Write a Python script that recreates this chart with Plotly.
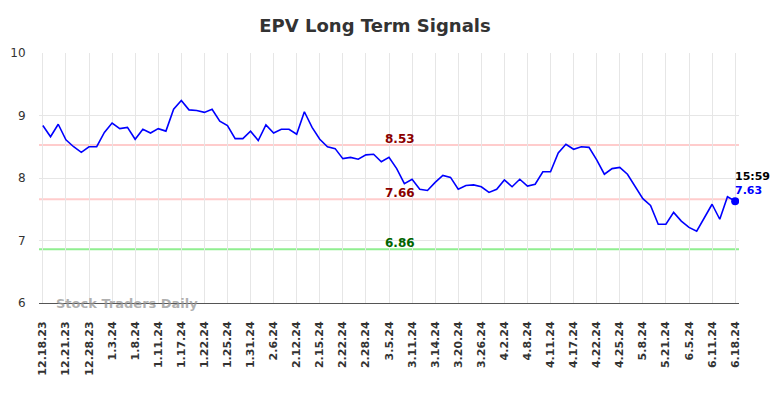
import plotly.graph_objects as go

dates = [
    "12.18.23", "12.19.23", "12.20.23", "12.21.23", "12.22.23", "12.26.23", "12.28.23", "12.29.23", "1.2.24",
    "1.3.24", "1.4.24", "1.5.24", "1.8.24", "1.9.24", "1.10.24", "1.11.24", "1.12.24", "1.16.24",
    "1.17.24", "1.18.24", "1.19.24", "1.22.24", "1.23.24", "1.24.24", "1.25.24", "1.26.24", "1.29.24",
    "1.31.24", "2.1.24", "2.2.24", "2.6.24", "2.7.24", "2.8.24", "2.12.24", "2.13.24", "2.14.24",
    "2.15.24", "2.16.24", "2.20.24", "2.22.24", "2.23.24", "2.26.24", "2.28.24", "2.29.24", "3.1.24",
    "3.5.24", "3.6.24", "3.7.24", "3.11.24", "3.12.24", "3.13.24", "3.14.24", "3.15.24", "3.18.24",
    "3.20.24", "3.21.24", "3.22.24", "3.26.24", "3.27.24", "3.28.24", "4.2.24", "4.3.24", "4.4.24",
    "4.8.24", "4.9.24", "4.10.24", "4.11.24", "4.12.24", "4.15.24", "4.17.24", "4.18.24", "4.19.24",
    "4.22.24", "4.23.24", "4.24.24", "4.25.24", "4.26.24", "5.1.24", "5.8.24", "5.9.24", "5.14.24",
    "5.21.24", "5.22.24", "5.29.24", "6.5.24", "6.6.24", "6.7.24", "6.11.24", "6.12.24", "6.14.24",
    "6.18.24",
]

prices = [
    8.84, 8.66, 8.86, 8.61, 8.50, 8.41, 8.50, 8.50, 8.73, 8.88,
    8.79, 8.81, 8.62, 8.78, 8.72, 8.79, 8.75, 9.10, 9.24, 9.09,
    9.08, 9.05, 9.10, 8.91, 8.84, 8.63, 8.63, 8.75, 8.60, 8.85,
    8.72, 8.78, 8.78, 8.70, 9.06, 8.81, 8.62, 8.50, 8.47, 8.31,
    8.33, 8.30, 8.37, 8.38, 8.26, 8.33, 8.15, 7.91, 7.98, 7.82,
    7.80, 7.93, 8.04, 8.01, 7.82, 7.88, 7.89, 7.86, 7.77, 7.82,
    7.97, 7.86, 7.98, 7.87, 7.90, 8.10, 8.10, 8.40, 8.54, 8.46,
    8.50, 8.49, 8.29, 8.06, 8.15, 8.17, 8.06, 7.86, 7.67, 7.56,
    7.26, 7.26, 7.45, 7.31, 7.21, 7.15, 7.36, 7.58, 7.34, 7.70,
    7.63,
]

tick_labels = [
    "12.18.23", "12.21.23", "12.28.23", "1.3.24", "1.8.24", "1.11.24", "1.17.24", "1.22.24",
    "1.25.24", "1.31.24", "2.6.24", "2.12.24", "2.15.24", "2.22.24", "2.28.24", "3.5.24",
    "3.11.24", "3.14.24", "3.20.24", "3.26.24", "4.2.24", "4.8.24", "4.11.24", "4.17.24",
    "4.22.24", "4.25.24", "5.8.24", "5.21.24", "6.5.24", "6.11.24", "6.18.24",
]

levels = [8.53, 7.66, 6.86]
level_line_colors = ["#ffcccc", "#ffcccc", "#90ee90"]
level_text_colors = ["#8b0000", "#8b0000", "#006400"]

last_time = "15:59"
title = "EPV Long Term Signals"
watermark = "Stock Traders Daily"

FONT = "DejaVu Sans"
W, H = 776, 390  # page body has an 8px default margin

fig = go.Figure()

for lv, lc in zip(levels, level_line_colors):
    fig.add_shape(type="line", xref="paper", x0=0, x1=1, yref="y", y0=lv, y1=lv,
                  line=dict(color=lc, width=2), layer="below")

fig.add_trace(go.Scatter(x=dates, y=prices, mode="lines",
                         line=dict(color="#0000ff", width=1.6), hoverinfo="skip",
                         showlegend=False))
fig.add_trace(go.Scatter(x=[dates[-1]], y=[prices[-1]], mode="markers",
                         marker=dict(color="#0000ff", size=8), showlegend=False))

for lv, tc in zip(levels, level_text_colors):
    fig.add_annotation(x=0.516, xref="paper", y=lv, yref="y", text=f"<b>{lv:.2f}</b>",
                       showarrow=False, yanchor="bottom", xanchor="center",
                       font=dict(family=FONT, size=12, color=tc), yshift=-3)

fig.add_annotation(x=dates[-1], y=prices[-1], text=f"<b>{last_time}</b>", showarrow=False,
                   xanchor="left", yanchor="middle", yshift=25, xshift=-2,
                   font=dict(family=FONT, size=11, color="#000000"))
fig.add_annotation(x=dates[-1], y=prices[-1], text=f"<b>{prices[-1]:.2f}</b>", showarrow=False,
                   xanchor="left", yanchor="middle", yshift=11, xshift=-2,
                   font=dict(family=FONT, size=11, color="#0000ff"))

fig.add_annotation(x=0.021, xref="paper", y=6, yref="y", text=f"<b>{watermark}</b>",
                   showarrow=False, xanchor="left", yanchor="middle",
                   font=dict(family=FONT, size=13, color="rgba(150,150,150,0.75)"))

fig.update_layout(
    width=W, height=H,
    margin=dict(l=31, r=45, t=45, b=95, autoexpand=False),
    paper_bgcolor="white", plot_bgcolor="white",
    title=dict(text=f"<b>{title}</b>", x=(375 - 8) / W, xanchor="center", y=1 - 18 / H,
               yref="container", yanchor="middle",
               font=dict(family=FONT, size=18, color="#333333")),
    font=dict(family=FONT, color="#333333"),
    xaxis=dict(type="category", categoryorder="array", categoryarray=dates,
               range=[-0.5, len(dates) - 0.5], automargin=False,
               tickmode="array", tickvals=tick_labels, ticktext=[f"<b>{t}</b>" for t in tick_labels],
               tickangle=-90, tickfont=dict(family=FONT, size=11, color="#333333"),
               showgrid=True, gridcolor="#e6e6e6", gridwidth=1,
               showline=True, linecolor="#555555", linewidth=1,
               zeroline=False, ticks="outside", ticklen=13, tickcolor="white"),
    yaxis=dict(range=[6, 10], dtick=1, tickfont=dict(family=FONT, size=12, color="#333333"),
               showgrid=True, gridcolor="#e6e6e6", gridwidth=1, zeroline=False, automargin=False,
               ticks="outside", ticklen=10, tickcolor="white", showline=False),
)

fig.write_html("out.html")
